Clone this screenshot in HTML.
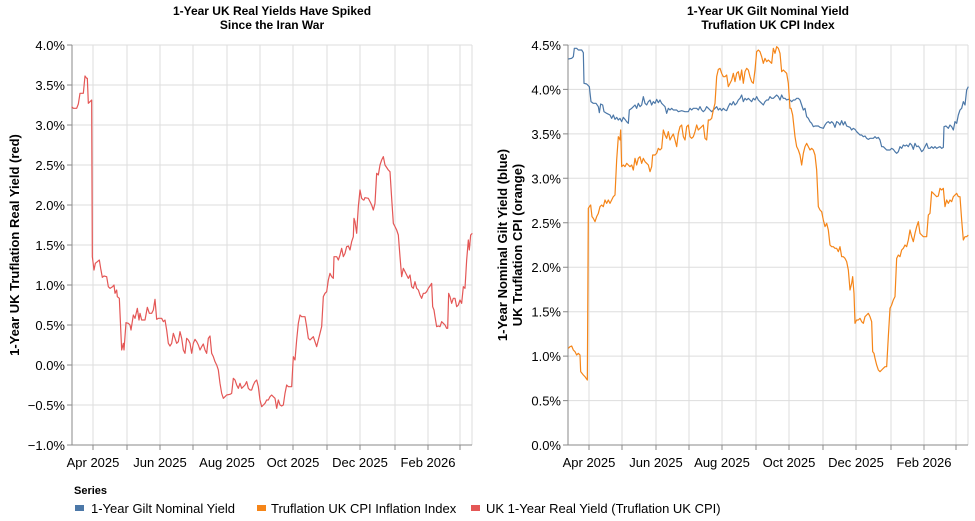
<!DOCTYPE html>
<html><head><meta charset="utf-8"><style>
body{margin:0;background:#fff}
svg{display:block;font-family:"Liberation Sans",Arial,sans-serif}
.g{stroke:#ddd;stroke-width:1}
.ax{stroke:#888;stroke-width:1;fill:none}
.t{font-size:13px;fill:#000}
.ttl{font-size:12px;font-weight:bold;fill:#000}
.yt{font-size:13px;font-weight:bold;fill:#000}
</style></head><body>
<svg width="975" height="521" viewBox="0 0 975 521">
<rect width="975" height="521" fill="#fff"/>
<!-- LEFT CHART -->
<g>
<g class="g">
<line x1="72" x2="472" y1="45" y2="45"/><line x1="72" x2="472" y1="85" y2="85"/><line x1="72" x2="472" y1="125" y2="125"/><line x1="72" x2="472" y1="165" y2="165"/><line x1="72" x2="472" y1="205" y2="205"/><line x1="72" x2="472" y1="245" y2="245"/><line x1="72" x2="472" y1="285" y2="285"/><line x1="72" x2="472" y1="325" y2="325"/><line x1="72" x2="472" y1="365" y2="365"/><line x1="72" x2="472" y1="405" y2="405"/>
<line x1="93" x2="93" y1="45" y2="445"/><line x1="127" x2="127" y1="45" y2="445"/><line x1="160" x2="160" y1="45" y2="445"/><line x1="193" x2="193" y1="45" y2="445"/><line x1="227" x2="227" y1="45" y2="445"/><line x1="260" x2="260" y1="45" y2="445"/><line x1="293" x2="293" y1="45" y2="445"/><line x1="327" x2="327" y1="45" y2="445"/><line x1="360" x2="360" y1="45" y2="445"/><line x1="395" x2="395" y1="45" y2="445"/><line x1="428" x2="428" y1="45" y2="445"/><line x1="460" x2="460" y1="45" y2="445"/><line x1="472" x2="472" y1="45" y2="445"/>
</g>
<path class="ax" d="M72,45V445H472"/>
<g class="ax"><path d="M67,45H72M67,85H72M67,125H72M67,165H72M67,205H72M67,245H72M67,285H72M67,325H72M67,365H72M67,405H72M67,445H72"/>
<path d="M93,445v5M127,445v5M160,445v5M193,445v5M227,445v5M260,445v5M293,445v5M327,445v5M360,445v5M395,445v5M428,445v5M460,445v5"/></g>
<g class="t" text-anchor="end">
<text x="65" y="50">4.0%</text><text x="65" y="90">3.5%</text><text x="65" y="130">3.0%</text><text x="65" y="170">2.5%</text><text x="65" y="210">2.0%</text><text x="65" y="250">1.5%</text><text x="65" y="290">1.0%</text><text x="65" y="330">0.5%</text><text x="65" y="370">0.0%</text><text x="65" y="410">−0.5%</text><text x="65" y="450">−1.0%</text>
</g>
<g class="t" text-anchor="middle">
<text x="93" y="467">Apr 2025</text><text x="160" y="467">Jun 2025</text><text x="227" y="467">Aug 2025</text><text x="293" y="467">Oct 2025</text><text x="360" y="467">Dec 2025</text><text x="428" y="467">Feb 2026</text>
</g>
<text class="ttl" x="272" y="15" text-anchor="middle">1-Year UK Real Yields Have Spiked</text>
<text class="ttl" x="272" y="29" text-anchor="middle">Since the Iran War</text>
<text class="yt" transform="translate(19,245) rotate(-90)" text-anchor="middle">1-Year UK Truflation Real Yield (red)</text>
<g transform="translate(60,40) scale(0.33333)">
<polyline fill="none" stroke="#e45756" stroke-width="3.6" stroke-linejoin="round" points="35,200 40,205 50,205 55,192 60,160 70,160 75,108 80,115 82,115 85,190 90,185 95,180 97,650 102,690 106,670 112,665 118,660 122,685 127,712 132,708 140,710 145,740 150,745 158,740 162,735 165,760 170,750 172,770 178,775 185,930 190,910 192,930 198,848 205,850 210,855 213,870 220,825 225,835 232,805 237,840 240,820 245,840 255,840 262,802 268,820 275,820 280,810 285,778 290,838 295,835 305,835 310,845 315,840 320,870 325,910 330,918 335,910 340,880 345,895 350,910 355,905 360,875 365,895 370,930 375,940 380,895 385,900 390,910 395,940 400,910 405,898 410,905 415,915 420,930 425,920 430,912 435,930 440,940 445,895 450,888 455,940 460,950 465,965 470,975 475,990 480,1030 485,1060 490,1075 495,1070 500,1065 510,1063 515,1060 520,1015 525,1020 530,1035 535,1045 540,1030 545,1045 550,1040 555,1035 560,1025 565,1045 570,1050 575,1050 580,1035 585,1025 590,1020 595,1040 600,1080 605,1100 610,1095 615,1090 620,1080 625,1080 630,1070 635,1065 640,1070 645,1075 650,1105 655,1080 660,1095 665,1098 670,1095 675,1060 680,1035 685,1040 690,1040 695,1040 700,950 705,960 710,900 715,850 720,825 725,830 730,830 735,830 740,860 745,895 750,900 755,895 760,890 765,905 770,920 775,900 780,880 785,860 790,770 795,760 800,755 805,720 810,700 815,710 820,715 822,650 830,650 835,660 840,645 845,625 850,650 855,640 860,620 865,618 870,630 875,605 880,590 882,535 885,545 890,580 895,500 900,450 905,475 910,480 912,480 915,473 925,475 930,485 935,495 940,510 945,490 950,400 955,405 960,375 965,360 970,350 975,375 985,390 990,395 995,475 1000,550 1005,560 1010,570 1015,585 1020,650 1025,710 1030,685 1035,695 1040,705 1045,715 1050,705 1055,740 1060,745 1065,725 1070,745 1075,750 1080,765 1085,775 1090,760 1095,760 1100,755 1105,745 1110,738 1115,730 1118,800 1122,810 1125,830 1130,860 1135,858 1140,860 1145,845 1150,850 1155,855 1160,865 1163,865 1166,760 1170,770 1175,790 1180,775 1185,775 1190,800 1195,795 1200,780 1205,790 1210,740 1215,745 1220,660 1225,600 1228,630 1232,585 1237,580"/>
</g>
</g>
<!-- RIGHT CHART -->
<g>
<g class="g">
<line x1="568" x2="968" y1="45" y2="45"/><line x1="568" x2="968" y1="89.4" y2="89.4"/><line x1="568" x2="968" y1="133.9" y2="133.9"/><line x1="568" x2="968" y1="178.3" y2="178.3"/><line x1="568" x2="968" y1="222.8" y2="222.8"/><line x1="568" x2="968" y1="267.2" y2="267.2"/><line x1="568" x2="968" y1="311.7" y2="311.7"/><line x1="568" x2="968" y1="356.1" y2="356.1"/><line x1="568" x2="968" y1="400.6" y2="400.6"/>
<line x1="589" x2="589" y1="45" y2="445"/><line x1="622" x2="622" y1="45" y2="445"/><line x1="656" x2="656" y1="45" y2="445"/><line x1="689" x2="689" y1="45" y2="445"/><line x1="722" x2="722" y1="45" y2="445"/><line x1="756" x2="756" y1="45" y2="445"/><line x1="789" x2="789" y1="45" y2="445"/><line x1="823" x2="823" y1="45" y2="445"/><line x1="856" x2="856" y1="45" y2="445"/><line x1="891" x2="891" y1="45" y2="445"/><line x1="924" x2="924" y1="45" y2="445"/><line x1="956" x2="956" y1="45" y2="445"/><line x1="968" x2="968" y1="45" y2="445"/>
</g>
<path class="ax" d="M568,45V445H968"/>
<g class="ax"><path d="M563,45H568M563,89.4H568M563,133.9H568M563,178.3H568M563,222.8H568M563,267.2H568M563,311.7H568M563,356.1H568M563,400.6H568M563,445H568"/>
<path d="M589,445v5M622,445v5M656,445v5M689,445v5M722,445v5M756,445v5M789,445v5M823,445v5M856,445v5M891,445v5M924,445v5M956,445v5"/></g>
<g class="t" text-anchor="end">
<text x="561" y="50">4.5%</text><text x="561" y="94.4">4.0%</text><text x="561" y="138.9">3.5%</text><text x="561" y="183.3">3.0%</text><text x="561" y="227.8">2.5%</text><text x="561" y="272.2">2.0%</text><text x="561" y="316.7">1.5%</text><text x="561" y="361.1">1.0%</text><text x="561" y="405.6">0.5%</text><text x="561" y="450">0.0%</text>
</g>
<g class="t" text-anchor="middle">
<text x="589" y="467">Apr 2025</text><text x="656" y="467">Jun 2025</text><text x="722" y="467">Aug 2025</text><text x="789" y="467">Oct 2025</text><text x="856" y="467">Dec 2025</text><text x="924" y="467">Feb 2026</text>
</g>
<text class="ttl" x="768" y="15" text-anchor="middle">1-Year UK Gilt Nominal Yield</text>
<text class="ttl" x="768" y="29" text-anchor="middle">Truflation UK CPI Index</text>
<text class="yt" transform="translate(507,245) rotate(-90)" text-anchor="middle">1-Year Nominal Gilt Yield (blue)</text>
<text class="yt" transform="translate(522,245) rotate(-90)" text-anchor="middle">UK Truflation CPI (orange)</text>
<g transform="translate(560,40) scale(0.33333)">
<polyline fill="none" stroke="#4c78a8" stroke-width="3.6" stroke-linejoin="round" points="25,57 35,55 40,50 43,25 50,25 55,30 65,30 70,38 72,130 80,132 88,140 93,185 100,190 108,190 115,200 118,218 122,192 128,195 132,215 140,220 150,225 155,235 160,225 165,238 170,232 175,240 180,235 185,245 190,232 195,238 200,245 205,250 208,210 215,205 220,200 225,195 230,205 235,190 240,200 245,195 250,170 255,190 260,195 265,185 270,180 275,195 280,185 285,190 290,178 295,188 300,180 305,190 310,195 315,200 320,220 325,205 330,210 335,205 340,210 350,210 355,215 365,212 375,215 385,215 390,205 395,210 400,205 410,205 415,210 420,200 425,210 430,215 435,210 440,200 445,205 450,210 455,215 460,210 465,205 470,200 475,210 480,205 485,212 490,205 495,210 500,212 505,200 510,190 515,195 520,185 525,195 530,190 535,180 540,175 545,165 550,185 555,175 560,180 565,175 570,180 575,185 580,175 585,180 590,170 595,180 600,185 605,190 610,195 615,185 620,180 625,180 630,170 635,175 640,175 645,170 650,165 655,170 660,180 665,165 670,175 675,175 680,180 685,178 690,180 695,185 700,180 705,180 710,175 715,175 720,180 725,195 730,210 735,205 740,230 745,235 750,245 755,250 760,260 765,258 775,258 780,262 790,265 795,255 800,248 805,245 810,250 815,245 820,250 825,262 830,245 835,248 840,255 845,242 850,255 855,245 860,258 865,260 870,262 875,270 880,265 885,268 890,275 895,280 900,285 905,285 910,290 915,288 920,295 925,298 930,295 940,295 945,290 950,295 955,292 960,300 965,320 970,320 975,325 980,330 990,330 995,325 1000,328 1005,335 1010,340 1015,335 1020,320 1025,325 1030,315 1035,318 1040,315 1045,320 1050,310 1055,315 1060,328 1065,310 1070,320 1075,318 1080,325 1085,335 1090,330 1095,320 1100,310 1105,325 1110,325 1115,320 1120,325 1125,320 1130,325 1135,322 1140,320 1145,325 1150,322 1152,260 1158,258 1165,265 1170,255 1175,260 1180,270 1185,245 1190,250 1195,225 1200,210 1205,205 1210,185 1215,195 1220,150 1225,140"/>
<polyline fill="none" stroke="#f58518" stroke-width="3.6" stroke-linejoin="round" points="25,925 30,920 35,918 40,930 45,935 50,945 55,940 60,945 62,995 70,1005 75,1010 82,1020 85,505 88,500 92,495 96,530 100,535 105,545 110,530 115,520 120,500 125,495 130,500 135,480 140,490 145,480 150,490 155,480 160,470 165,465 170,360 175,290 180,300 182,270 185,380 190,375 195,380 200,370 205,375 210,380 215,375 220,390 225,355 230,375 235,355 240,350 245,370 250,355 255,365 260,370 265,375 270,395 275,380 278,345 285,345 290,340 295,325 300,330 305,325 310,270 315,285 320,295 325,275 330,300 335,290 340,282 345,300 350,320 355,280 360,260 365,255 370,290 375,300 380,260 385,255 390,290 395,295 400,290 405,275 410,255 415,270 420,265 425,260 430,255 435,295 440,300 445,240 450,240 455,235 460,210 465,190 470,110 475,88 480,85 485,100 490,110 495,110 500,105 505,140 510,130 515,120 520,100 525,125 530,100 535,95 540,120 545,90 550,130 555,95 560,85 565,90 570,110 575,125 580,130 585,90 590,35 595,30 600,35 605,50 610,70 615,55 620,65 625,60 630,65 635,70 640,25 645,40 650,20 655,25 660,40 665,95 670,90 675,95 680,100 685,130 690,205 693,205 698,225 705,290 710,320 715,330 720,345 725,375 730,340 735,320 740,310 745,320 750,330 755,325 760,330 765,345 770,390 775,500 780,510 785,515 790,540 795,560 800,550 805,570 810,615 815,620 820,620 825,625 830,625 835,635 840,620 845,650 850,650 855,655 860,665 865,690 870,750 875,730 878,710 882,760 885,850 890,840 895,840 900,835 905,845 910,850 915,830 920,825 925,820 930,830 935,845 938,935 942,940 945,955 950,975 955,990 960,995 965,990 970,985 975,980 980,980 985,890 990,805 995,795 1000,780 1005,770 1010,655 1015,645 1020,650 1025,630 1030,625 1035,615 1040,620 1045,600 1050,570 1055,590 1060,605 1065,580 1070,560 1075,545 1080,580 1085,585 1090,590 1095,590 1100,590 1105,525 1110,520 1115,455 1120,460 1125,465 1130,470 1135,468 1140,445 1145,450 1150,445 1155,500 1160,480 1165,490 1170,480 1175,485 1180,470 1185,465 1190,460 1195,470 1200,470 1205,540 1210,600 1215,590 1220,590 1225,585"/>
</g>
</g>
<!-- LEGEND -->
<text x="74" y="494" style="font-size:11px;font-weight:bold">Series</text>
<rect x="75" y="505" width="9" height="6" fill="#4c78a8"/>
<text class="t" x="91" y="513">1-Year Gilt Nominal Yield</text>
<rect x="257" y="505" width="9" height="6" fill="#f58518"/>
<text class="t" x="271" y="513">Truflation UK CPI Inflation Index</text>
<rect x="471" y="505" width="9" height="6" fill="#e45756"/>
<text class="t" x="486" y="513">UK 1-Year Real Yield (Truflation UK CPI)</text>
</svg>
</body></html>
